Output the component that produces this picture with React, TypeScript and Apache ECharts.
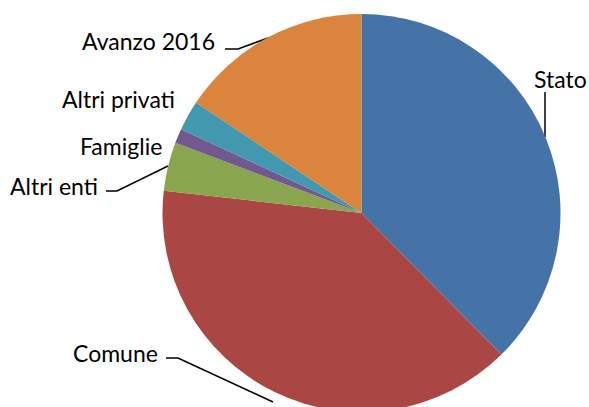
import React, { useEffect, useRef } from "react";
import * as echarts from "echarts";

const categories = ["Stato", "Comune", "Altri enti", "Famiglie", "Altri privati", "Avanzo 2016"];
const values = [37.6, 39.2, 3.96, 1.18, 2.44, 15.64];
const colors = ["#4572A7", "#AA4643", "#89A54E", "#71588F", "#4198AF", "#DB843D"];

// label anchor (left, middle) and leader line points per slice
const labelPos: [number, number][] = [
  [534, 79],
  [73, 353],
  [10, 186],
  [80, 146],
  [62, 99],
  [82, 41],
];
const linePts: (number[][] | null)[] = [
  [[545, 137], [545, 114], [545, 92]],
  [[273, 402], [178, 358], [166, 358]],
  [[168, 166], [117, 191], [106, 191]],
  null,
  null,
  [[268, 38], [238, 49], [225, 49]],
];

export default function App() {
  const ref = useRef<HTMLDivElement>(null);
  useEffect(() => {
    if (!ref.current) return;
    const chart = echarts.init(ref.current, undefined, { renderer: "svg" });
    chart.setOption({
      animation: false,
      backgroundColor: "#ffffff",
      series: [
        {
          type: "pie",
          center: [361.5, 213],
          radius: 199,
          startAngle: 90,
          clockwise: true,
          avoidLabelOverlap: false,
          itemStyle: { borderWidth: 0 },
          label: {
            show: true,
            formatter: "{b}",
            color: "#000000",
            fontFamily: "Lato",
            fontSize: 23,
          },
          labelLine: {
            show: true,
            lineStyle: { color: "#000000", width: 1.5 },
          },
          labelLayout: (params: any) => {
            const i = params.dataIndex;
            const out: any = {
              x: labelPos[i][0],
              y: labelPos[i][1],
              align: "left",
              verticalAlign: "middle",
            };
            if (linePts[i]) out.labelLinePoints = linePts[i];
            return out;
          },
          data: categories.map((name, i) => ({
            name,
            value: values[i],
            itemStyle: { color: colors[i] },
            labelLine: { show: linePts[i] !== null },
          })),
        },
      ],
    });
    return () => chart.dispose();
  }, []);
  return (
    <div
      ref={ref}
      style={{ position: "absolute", left: 0, top: 0, width: 589, height: 407 }}
    />
  );
}
